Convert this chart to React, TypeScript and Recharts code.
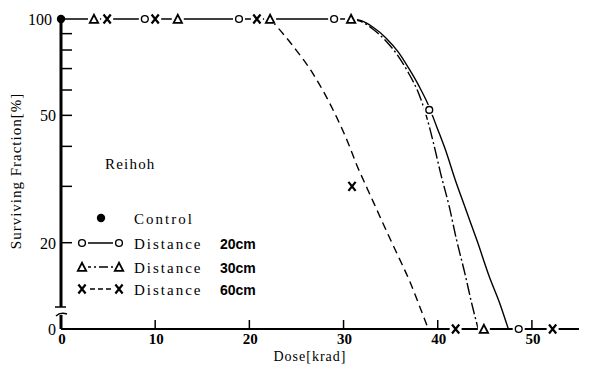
import React from 'react';
import { ComposedChart, Line, Scatter, XAxis, YAxis, Legend, Label } from 'recharts';

// The broken-axis "0" level of the log survival axis
const ZERO = 10.75;

const doseTicks = [0, 10, 20, 30, 40, 50];
const survivalTicks = [ZERO, 20, 30, 40, 50, 60, 70, 80, 90, 100];
const labelledSurvival = [100, 50, 20];

// measured points [dose krad, surviving %]
const controlPoints: [number, number][] = [[0, 100]];
const dist20Points: [number, number][] = [[8.9, 100], [18.9, 100], [29.0, 100], [39.1, 52], [48.6, ZERO]];
const dist30Points: [number, number][] = [[3.5, 100], [12.4, 100], [22.2, 100], [30.8, 100], [44.9, ZERO]];
const dist60Points: [number, number][] = [[4.9, 100], [10.0, 100], [20.8, 100], [30.9, 30], [41.9, ZERO], [52.2, ZERO]];

// fitted curves
const dist20Curve: [number, number][] = [
  [0, 100], [30.8, 100], [31.95, 98.6], [33.1, 94.4], [34.5, 87.3], [35.8, 78.9], [36.9, 70.3],
  [38.0, 61.8], [39.0, 53.9], [39.9, 46.0], [40.9, 38.4], [41.8, 31.8], [42.9, 25.8],
  [44.2, 20.2], [45.5, 15.6], [46.6, 12.9], [47.5, ZERO],
];
const dist30Curve: [number, number][] = [
  [30.8, 100], [31.95, 97.9], [33.1, 93.1], [34.5, 85.4], [35.8, 76.6], [36.9, 67.8], [38.0, 58.3],
  [38.85, 49.1], [39.6, 40.4], [40.3, 33.0], [41.2, 26.1], [42.0, 20.4], [42.9, 15.96], [43.6, 12.95], [44.3, ZERO],
];
const dist60Curve: [number, number][] = [
  [22.2, 100], [23.6, 89.8], [25.05, 79.4], [26.5, 69.3], [27.9, 59.1], [29.2, 49.8], [30.4, 41.6],
  [31.4, 35.0], [32.5, 29.6], [33.55, 25.3], [34.7, 21.3], [35.9, 17.9], [37.05, 15.1],
  [38.1, 12.6], [39.0, ZERO],
];

const legendTitle = 'Reihoh';
const legendItems = [
  { kind: 'dot', label: 'Control', dist: '', dash: '' },
  { kind: 'circle', label: 'Distance', dist: '20cm', dash: '' },
  { kind: 'triangle', label: 'Distance', dist: '30cm', dash: '9 3 2 3' },
  { kind: 'cross', label: 'Distance', dist: '60cm', dash: '5 3' },
];

const toRows = (pts: [number, number][]) => pts.map(([dose, value]) => ({ dose, value }));

const SERIF = '"Liberation Serif", "DejaVu Serif", serif';
const SANS = '"Liberation Sans", Arial, sans-serif';

function Glyph({ kind, cx, cy, halo = true }: { kind: string; cx: number; cy: number; halo?: boolean }) {
  if (cx == null || cy == null) return null;
  const h = halo ? <rect x={cx - 6} y={cy - 5} width={12} height={10} fill="#fff" /> : null;
  if (kind === 'dot') return <circle cx={cx} cy={cy} r={4.2} fill="#000" />;
  if (kind === 'circle')
    return (
      <g>
        {h}
        <circle cx={cx} cy={cy} r={3.4} fill="#fff" stroke="#000" strokeWidth={1.4} />
      </g>
    );
  if (kind === 'triangle')
    return (
      <g>
        {h}
        <path d={`M${cx - 4.2} ${cy + 3.8} L${cx} ${cy - 4.2} L${cx + 4.2} ${cy + 3.8} Z`} fill="#fff" stroke="#000" strokeWidth={1.8} strokeLinejoin="miter" />
      </g>
    );
  return (
    <g>
      {h}
      <path d={`M${cx - 3.6} ${cy - 4.5} L${cx + 3.6} ${cy + 4.5} M${cx + 3.6} ${cy - 4.5} L${cx - 3.6} ${cy + 4.5}`} stroke="#000" strokeWidth={2.2} />
    </g>
  );
}

const YTick = (props: any) => {
  const { x, y, payload } = props;
  const v = payload.value;
  const isZero = Math.abs(v - ZERO) < 1e-6;
  const label = isZero ? '0' : labelledSurvival.includes(v) ? String(v) : '';
  return (
    <g>
      {!isZero && v !== 100 && <line x1={x} x2={x + 11} y1={y} y2={y} stroke="#000" strokeWidth={1.5} />}
      {isZero && (
        <g>
          <rect x={x - 4} y={y - 22} width={8} height={8} fill="#fff" />
          <line x1={x - 6} x2={x + 5} y1={y - 22} y2={y - 22} stroke="#000" strokeWidth={1.5} />
          <path d={`M${x - 5} ${y - 13} Q${x - 1} ${y - 17} ${x + 6} ${y - 15}`} fill="none" stroke="#000" strokeWidth={1.5} />
        </g>
      )}
      {label && (
        <text x={x - (v === 100 ? 9 : 5)} y={y} dy={6} textAnchor="end" fontFamily={SERIF} fontSize={16} fill="#000">
          {label}
        </text>
      )}
    </g>
  );
};

const XTick = (props: any) => {
  const { x, y, payload } = props;
  const v = payload.value;
  return (
    <g>
      {v !== 0 && <line x1={x} x2={x} y1={y} y2={y - 9} stroke="#000" strokeWidth={1.5} />}
      <text x={x + 1} y={y + 15} textAnchor="middle" fontFamily={SERIF} fontSize={15} fontWeight="bold" fill="#000">
        {v}
      </text>
    </g>
  );
};

const LegendContent = () => {
  const rowsY = [218, 243, 267, 289];
  return (
    <svg width={591} height={367} style={{ position: 'absolute', left: 0, top: 0, overflow: 'visible' }}>
      <text x={105} y={169} fontFamily={SERIF} fontSize={15} letterSpacing={1.2} fill="#000">
        {legendTitle}
      </text>
      {legendItems.map((it, i) => {
        const cy = rowsY[i];
        return (
          <g key={i}>
            {it.kind === 'dot' ? (
              <Glyph kind="dot" cx={101} cy={cy} halo={false} />
            ) : (
              <g>
                <line x1={82} x2={119} y1={cy} y2={cy} stroke="#000" strokeWidth={1.3} strokeDasharray={it.dash || undefined} />
                <Glyph kind={it.kind} cx={82} cy={cy} />
                <Glyph kind={it.kind} cx={119} cy={cy} />
              </g>
            )}
            <text x={134} y={cy + 6} fontFamily={SERIF} fontSize={15} letterSpacing={2} fill="#000">
              {it.label}
            </text>
            {it.dist && (
              <text x={220} y={cy + 6} fontFamily={SANS} fontSize={14} fontWeight="bold" fill="#000">
                {it.dist}
              </text>
            )}
          </g>
        );
      })}
    </svg>
  );
};

const shapeOf = (kind: string) => (p: any) => <Glyph kind={kind} cx={p.cx} cy={p.cy} halo={kind !== 'dot'} />;

export default function App() {
  return (
    <div style={{ position: 'absolute', left: 0, top: 0, width: 591, height: 367, background: '#fff' }}>
      <ComposedChart width={591} height={367} margin={{ top: 19, right: 12, left: 0, bottom: 0 }}>
        <XAxis
          type="number"
          dataKey="dose"
          domain={[0, 55]}
          ticks={doseTicks}
          height={38}
          tickSize={0}
          tickMargin={0}
          tickLine={false}
          tick={<XTick />}
          axisLine={{ stroke: '#000', strokeWidth: 2 }}
        >
          <Label
            content={(p: any) => {
              const vb = p.viewBox;
              return (
                <text x={vb.x + vb.width / 2 - 10} y={vb.y + 32} textAnchor="middle" fontFamily={SERIF} fontSize={14} letterSpacing={1} fill="#000">
                  Dose[krad]
                </text>
              );
            }}
          />
        </XAxis>
        <YAxis
          type="number"
          dataKey="value"
          scale="log"
          domain={[ZERO, 100]}
          ticks={survivalTicks}
          width={61}
          tickSize={0}
          tickMargin={0}
          tickLine={false}
          tick={<YTick />}
          interval={0}
          axisLine={{ stroke: '#000', strokeWidth: 3 }}
        >
          <Label
            content={() => {
              const cx = 21;
              const cy = 171;
              return (
                <text x={cx} y={cy} transform={`rotate(-90 ${cx} ${cy})`} textAnchor="middle" fontFamily={SERIF} fontSize={15} letterSpacing={1} fill="#000">
                  Surviving Fraction[%]
                </text>
              );
            }}
          />
        </YAxis>
        <Legend layout="horizontal" verticalAlign="middle" align="center" wrapperStyle={{ position: 'absolute', left: 0, top: 0, width: 591, height: 367, pointerEvents: 'none' }} content={<LegendContent />} />
        <Line data={toRows(dist20Curve)} dataKey="value" type="monotone" stroke="#000" strokeWidth={1.4} dot={false} isAnimationActive={false} />
        <Line data={toRows(dist30Curve)} dataKey="value" type="monotone" stroke="#000" strokeWidth={1.4} strokeDasharray="12 3 2 3" dot={false} isAnimationActive={false} />
        <Line data={toRows(dist60Curve)} dataKey="value" type="monotone" stroke="#000" strokeWidth={1.4} strokeDasharray="8 5" dot={false} isAnimationActive={false} />
        <Scatter data={toRows(dist20Points)} dataKey="value" shape={shapeOf('circle')} isAnimationActive={false} />
        <Scatter data={toRows(dist30Points)} dataKey="value" shape={shapeOf('triangle')} isAnimationActive={false} />
        <Scatter data={toRows(dist60Points)} dataKey="value" shape={shapeOf('cross')} isAnimationActive={false} />
        <Scatter data={toRows(controlPoints)} dataKey="value" shape={shapeOf('dot')} isAnimationActive={false} />
      </ComposedChart>
    </div>
  );
}
